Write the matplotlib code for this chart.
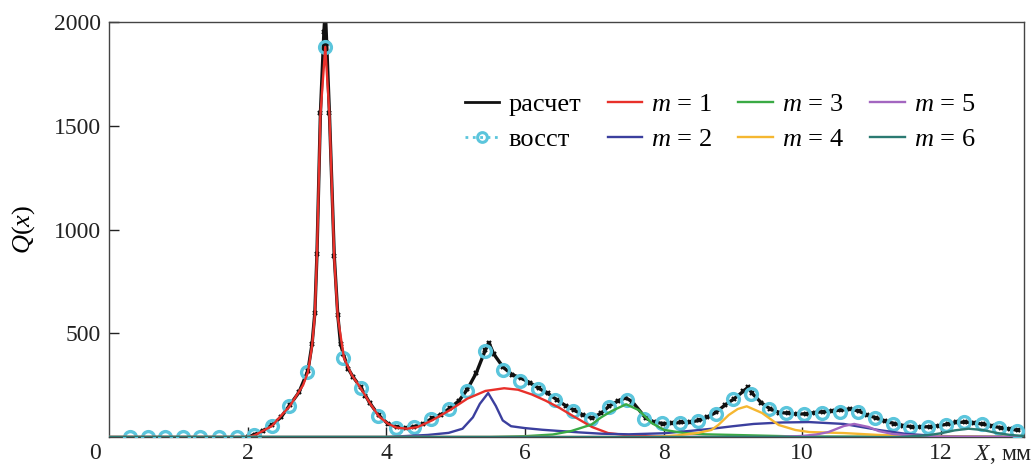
import numpy as np
import matplotlib
matplotlib.use("Agg")
import matplotlib.pyplot as plt
from matplotlib.lines import Line2D

plt.rcParams['font.family'] = ['Liberation Serif', 'DejaVu Serif']
plt.rcParams['mathtext.fontset'] = 'custom'
plt.rcParams['mathtext.rm'] = 'Liberation Serif'
plt.rcParams['mathtext.it'] = 'Liberation Serif:italic'

# ---- data ----
calc_x = [2.00, 2.10, 2.22, 2.35, 2.48, 2.61, 2.74, 2.87, 2.93, 2.97, 3.00, 3.05, 3.10, 3.12, 3.14,
          3.18, 3.25, 3.30, 3.34, 3.38, 3.45, 3.52, 3.63, 3.70, 3.76, 3.89, 4.02, 4.15, 4.28, 4.40,
          4.53, 4.66, 4.79, 4.92, 5.05, 5.17, 5.30, 5.43, 5.48, 5.55, 5.69, 5.82, 5.94, 6.07, 6.20,
          6.33, 6.46, 6.59, 6.71, 6.84, 6.97, 7.10, 7.22, 7.35, 7.45, 7.55, 7.74, 7.86, 7.99, 8.12,
          8.25, 8.38, 8.51, 8.63, 8.76, 8.89, 9.02, 9.15, 9.22, 9.28, 9.41, 9.54, 9.67, 9.80, 9.92,
          10.05, 10.18, 10.30, 10.43, 10.56, 10.69, 10.82, 10.94, 11.07, 11.20, 11.33, 11.46, 11.58,
          11.71, 11.84, 11.97, 12.10, 12.22, 12.35, 12.48, 12.61, 12.74, 12.87, 13.00, 13.12]
calc_y = [0, 12, 30, 58, 95, 155, 215, 320, 450, 600, 880, 1560, 1950, 2060, 1900,
          1560, 870, 590, 450, 400, 330, 290, 240, 200, 165, 105, 65, 48, 42, 50,
          62, 90, 108, 140, 175, 230, 310, 420, 455, 400, 335, 300, 285, 262, 235,
          210, 180, 150, 130, 105, 92, 115, 150, 175, 190, 170, 92, 72, 65, 66,
          70, 72, 80, 95, 120, 155, 185, 220, 240, 210, 165, 135, 118, 115, 110,
          112, 118, 122, 125, 130, 135, 125, 105, 92, 75, 65, 55, 50,
          48, 50, 55, 62, 70, 72, 68, 62, 52, 45, 38, 32]

recon_x = [0.30, 0.56, 0.81, 1.07, 1.32, 1.58, 1.84, 2.09, 2.35, 2.60, 2.86, 3.12, 3.37, 3.63, 3.88,
           4.14, 4.40, 4.65, 4.91, 5.16, 5.42, 5.68, 5.93, 6.19, 6.44, 6.70, 6.96, 7.21, 7.47, 7.72,
           7.98, 8.24, 8.49, 8.75, 9.00, 9.26, 9.52, 9.77, 10.03, 10.28, 10.54, 10.80, 11.05, 11.31,
           11.56, 11.82, 12.08, 12.33, 12.59, 12.84, 13.10]
recon_y = [0, 0, 0, 0, 0, 0, 0, 10, 55, 150, 313, 1880, 381, 236, 101,
           43, 48, 87, 135, 222, 414, 323, 270, 231, 178, 125, 87, 145, 178, 87,
           67, 67, 77, 113, 183, 205, 135, 116, 111, 116, 120, 120, 92, 65,
           50, 48, 60, 70, 62, 45, 30]

m1_x = [0, 2.0, 2.1, 2.35, 2.61, 2.8, 2.87, 2.93, 2.97, 3.0, 3.05, 3.12, 3.18, 3.25, 3.30, 3.39, 3.5,
        3.63, 3.76, 3.89, 4.02, 4.15, 4.3, 4.45, 4.66, 4.92, 5.17, 5.43, 5.7, 5.9, 6.1, 6.3, 6.5, 6.7,
        6.97, 7.2, 7.5, 7.8, 8.1, 13.2]
m1_y = [0, 0, 8, 53, 150, 250, 313, 440, 590, 880, 1552, 1880, 1552, 860, 578, 381, 300,
        236, 165, 101, 65, 45, 40, 48, 80, 130, 185, 222, 235, 228, 205, 175, 140, 100,
        48, 19, 8, 3, 0, 0]

m2_x = [0, 4.0, 4.3, 4.6, 4.9, 5.1, 5.25, 5.35, 5.47, 5.58, 5.68, 5.8, 6.0, 6.25, 6.5, 6.8, 7.1,
        7.5, 8.0, 8.4, 8.7, 9.0, 9.3, 9.7, 10.1, 10.6, 11.1, 11.5, 11.9, 12.3, 13.2]
m2_y = [0, 0, 5, 10, 20, 40, 95, 160, 212, 150, 80, 52, 43, 35, 29, 22, 16,
        13, 18, 30, 40, 52, 63, 70, 72, 63, 34, 15, 6, 2, 0]

m3_x = [0, 5.5, 6.0, 6.4, 6.67, 6.96, 7.1, 7.25, 7.46, 7.64, 7.83, 8.01, 8.3, 8.6, 9.0, 9.5, 10.0, 13.2]
m3_y = [0, 0, 4, 12, 29, 60, 95, 125, 158, 130, 67, 34, 19, 13, 10, 6, 2, 0]

m4_x = [0, 7.8, 8.2, 8.5, 8.69, 8.79, 8.94, 9.07, 9.2, 9.42, 9.66, 9.9, 10.1, 10.6, 11.1, 11.6, 12.2, 13.2]
m4_y = [0, 0, 8, 20, 34, 58, 106, 135, 148, 116, 58, 34, 24, 19, 10, 5, 2, 0]

m5_x = [0, 9.6, 10.0, 10.2, 10.38, 10.6, 10.75, 10.96, 11.1, 11.3, 11.6, 12.0, 13.2]
m5_y = [0, 0, 5, 12, 24, 53, 63, 48, 29, 15, 6, 2, 0]

m6_x = [0, 11.4, 11.8, 12.0, 12.2, 12.4, 12.6, 12.8, 13.0, 13.2]
m6_y = [0, 0, 8, 18, 32, 40, 34, 20, 10, 5]

x_ticks = [2, 4, 6, 8, 10, 12]
y_ticks = [500, 1000, 1500, 2000]

comp_colors = ["#e8302a", "#3b3f9e", "#3aaa45", "#f5b731", "#a366c0", "#2b7a72"]
comp_labels = ["$m$ = 1", "$m$ = 2", "$m$ = 3", "$m$ = 4", "$m$ = 5", "$m$ = 6"]
CYAN = "#5bc5dc"

# ---- figure ----
fig = plt.figure(figsize=(10.35, 4.66), dpi=100)
ax = fig.add_axes([0.1053, 0.0622, 0.8841, 0.8906])

ax.plot(calc_x, calc_y, color="#111111", lw=2.4, marker="x", ms=3.5, mew=1.6, zorder=2)
h_calc = Line2D([], [], color="#111111", lw=2.0, label="расчет")
ax.plot(recon_x, recon_y, ls="none", marker="o", ms=8.5,
        mfc="none", mec=CYAN, mew=2.4, zorder=3)
h_rec = Line2D([], [], color=CYAN, lw=2.0, ls=":", marker="o", ms=7,
               mfc="none", mec=CYAN, mew=2.2, label="восст")
comps = []
for xs, ys, c, lab in zip([m1_x, m2_x, m3_x, m4_x, m5_x, m6_x],
                          [m1_y, m2_y, m3_y, m4_y, m5_y, m6_y], comp_colors, comp_labels):
    h, = ax.plot(xs, ys, color=c, lw=1.7, label=lab, zorder=4)
    comps.append(h)

ax.set_xlim(0, 13.2)
ax.set_ylim(0, 2000)
ax.set_xticks(x_ticks)
ax.set_yticks(y_ticks)
ax.tick_params(direction="in", length=7, width=1, labelsize=17, colors="#222222", pad=6)
ax.tick_params(axis="x", pad=4)
for s in ax.spines.values():
    s.set_color("#444444")
    s.set_linewidth(1.0)

ax.set_ylabel("$Q$($x$)", fontsize=19, labelpad=12)
ax.text(-0.015, -0.04, "0", transform=ax.transAxes, fontsize=17, ha="center", va="center",
        color="#222222")
fig.text(1032 / 1035, 1 - 454 / 466, "$X$, мм", fontsize=17, ha="right", va="center",
         color="#222222")

handles = [h_calc, h_rec] + comps
leg = ax.legend(handles=handles, ncol=4, loc="upper left", bbox_to_anchor=(0.389, 0.83),
                frameon=False, fontsize=19, handlelength=1.3, handletextpad=0.35,
                columnspacing=1.0, labelspacing=0.45, numpoints=1, borderpad=0,
                borderaxespad=0)

fig.savefig("out.png", dpi=100)
